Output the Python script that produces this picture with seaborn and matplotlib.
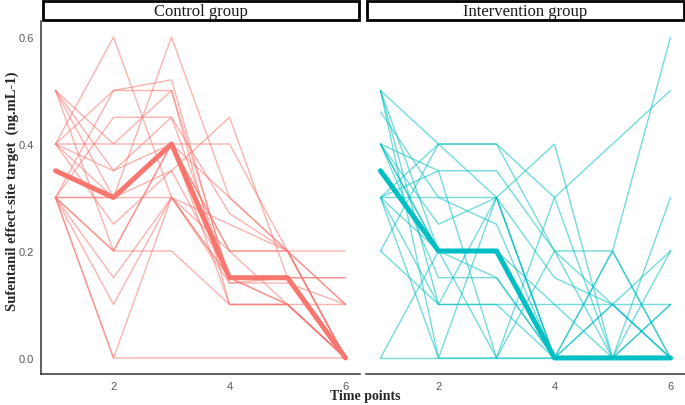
import pandas as pd
import matplotlib.pyplot as plt
import seaborn as sns
from matplotlib.patches import Rectangle

# time points on the x axis
time_points = [1, 2, 3, 4, 5, 6]
groups = ["Control group", "Intervention group"]
group_colors = ["#F8766D", "#00BFC4"]

# sufentanil effect-site target per patient (ng/mL)
control_subjects = [
    [0.5, 0.4, 0.5, 0.15, 0.1, 0.0],
    [0.5, 0.35, 0.4, 0.2, 0.2, 0.1],
    [0.5, 0.3, 0.6, 0.3, 0.2, 0.0],
    [0.5, 0.2, 0.4, 0.1, 0.1, 0.0],
    [0.4, 0.6, 0.3, 0.15, 0.15, 0.0],
    [0.4, 0.4, 0.4, 0.4, 0.2, 0.1],
    [0.4, 0.35, 0.45, 0.15, 0.15, 0.15],
    [0.4, 0.5, 0.5, 0.1, 0.1, 0.0],
    [0.4, 0.3, 0.3, 0.25, 0.2, 0.0],
    [0.4, 0.25, 0.35, 0.45, 0.15, 0.0],
    [0.3, 0.45, 0.45, 0.27, 0.2, 0.0],
    [0.3, 0.5, 0.52, 0.14, 0.14, 0.1],
    [0.3, 0.3, 0.4, 0.3, 0.2, 0.0],
    [0.3, 0.2, 0.2, 0.1, 0.1, 0.1],
    [0.3, 0.15, 0.3, 0.14, 0.15, 0.0],
    [0.3, 0.1, 0.3, 0.2, 0.2, 0.2],
    [0.3, 0.0, 0.0, 0.0, 0.0, 0.0],
    [0.3, 0.3, 0.35, 0.15, 0.1, 0.0],
    [0.3, 0.2, 0.4, 0.2, 0.1, 0.0],
    [0.3, 0.0, 0.3, 0.15, 0.15, 0.15],
]

intervention_subjects = [
    [0.5, 0.4, 0.4, 0.3, 0.0, 0.0],
    [0.5, 0.2, 0.2, 0.0, 0.0, 0.0],
    [0.5, 0.1, 0.3, 0.0, 0.1, 0.2],
    [0.5, 0.0, 0.0, 0.0, 0.0, 0.0],
    [0.46, 0.3, 0.3, 0.0, 0.2, 0.6],
    [0.4, 0.35, 0.35, 0.2, 0.0, 0.0],
    [0.4, 0.2, 0.0, 0.3, 0.4, 0.5],
    [0.4, 0.25, 0.3, 0.15, 0.1, 0.0],
    [0.4, 0.15, 0.15, 0.0, 0.0, 0.1],
    [0.4, 0.2, 0.2, 0.0, 0.1, 0.0],
    [0.3, 0.4, 0.4, 0.2, 0.2, 0.0],
    [0.3, 0.3, 0.25, 0.0, 0.0, 0.3],
    [0.3, 0.2, 0.2, 0.1, 0.1, 0.1],
    [0.3, 0.0, 0.3, 0.4, 0.0, 0.0],
    [0.3, 0.1, 0.1, 0.0, 0.0, 0.0],
    [0.3, 0.35, 0.0, 0.2, 0.1, 0.0],
    [0.2, 0.4, 0.3, 0.0, 0.0, 0.2],
    [0.2, 0.1, 0.1, 0.1, 0.0, 0.1],
    [0.0, 0.0, 0.0, 0.0, 0.0, 0.0],
    [0.0, 0.2, 0.15, 0.0, 0.2, 0.0],
]


def to_long(subjects, group):
    rows = []
    for sid, vals in enumerate(subjects):
        for t, v in zip(time_points, vals):
            rows.append({"subject": sid, "time": t, "target": v, "group": group})
    return rows


df = pd.DataFrame(to_long(control_subjects, groups[0]) + to_long(intervention_subjects, groups[1]))

sns.set_style("white")
plt.rcParams["font.family"] = ["Liberation Sans", "DejaVu Sans"]

W, H = 685, 406
fig = plt.figure(figsize=(W / 100, H / 100), dpi=100)
bottom = 1 - 375 / H
height = (375 - 22) / H
ax_l = fig.add_axes([41 / W, bottom, 319 / W, height])
ax_r = fig.add_axes([366 / W, bottom, 319 / W, height])

for ax, group, color in zip([ax_l, ax_r], groups, group_colors):
    sub = df[df["group"] == group]
    # one thin line per patient
    sns.lineplot(data=sub, x="time", y="target", units="subject", estimator=None,
                 color=color, alpha=0.55, linewidth=1.0, ax=ax)
    # thick median line
    sns.lineplot(data=sub, x="time", y="target", estimator="median", errorbar=None,
                 color=color, linewidth=3.6, ax=ax)

    ax.set_xlim(0.75, 6.25)
    ax.set_ylim(-0.03, 0.63)
    ax.set_xticks([2, 4, 6])
    ax.set_yticks([0.0, 0.2, 0.4, 0.6])
    ax.set_yticklabels(["0.0", "0.2", "0.4", "0.6"])
    ax.set_xlabel("")
    ax.set_ylabel("")
    sns.despine(ax=ax)
    for side in ["left", "bottom"]:
        ax.spines[side].set_color("#333333")
        ax.spines[side].set_linewidth(1.1)
    ax.tick_params(length=3, width=0.8, color="#333333", labelcolor="#595959",
                   labelsize=8, pad=2)

    # facet strip
    ax.add_patch(Rectangle((1.5 / 319, 1 + 1 / 353), 1 - 3 / 319, 19 / 353,
                           transform=ax.transAxes, facecolor="white",
                           edgecolor="black", linewidth=2, clip_on=False))
    ax.text(0.5, 1 + 10.5 / 353, group, transform=ax.transAxes, ha="center",
            va="center", fontsize=12, family="Liberation Serif", color="#1A1A1A")

ax_r.spines["left"].set_visible(False)
ax_r.tick_params(axis="y", left=False, labelleft=False)

fig.text(12 / W, 1 - 191 / H, "Sufentanil effect-site target  (ng.mL-1)", rotation=90,
         ha="center", va="center", fontsize=10.5, fontweight="bold", family="Liberation Serif")
fig.text(365 / W, 1 - 397 / H, "Time points", ha="center", va="center",
         fontsize=10, fontweight="bold", family="Liberation Serif")

fig.savefig("out.png", dpi=100)
